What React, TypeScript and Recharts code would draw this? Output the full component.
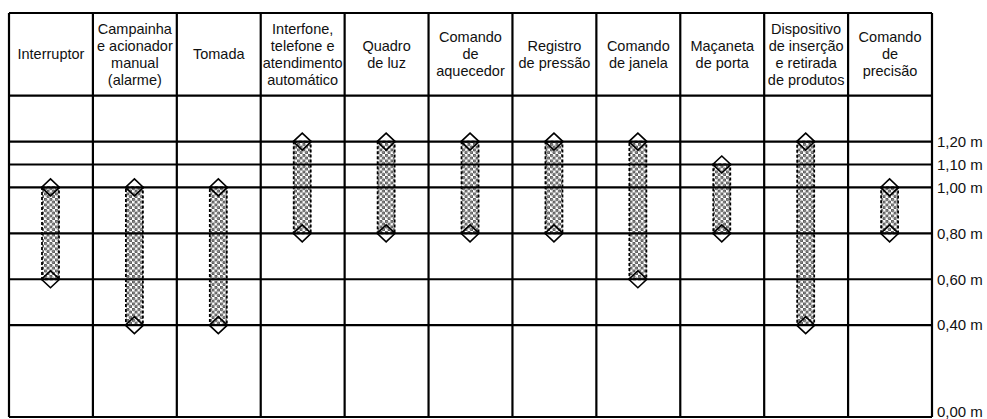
import { ComposedChart, Bar, XAxis, YAxis, ReferenceLine } from "recharts"

// column headers (line breaks as in the original table)
const categories = [
  "Interruptor",
  "Campainha\ne acionador\nmanual\n(alarme)",
  "Tomada",
  "Interfone,\ntelefone e\natendimento\nautomático",
  "Quadro\nde luz",
  "Comando\nde\naquecedor",
  "Registro\nde pressão",
  "Comando\nde janela",
  "Maçaneta\nde porta",
  "Dispositivo\nde inserção\ne retirada\nde produtos",
  "Comando\nde\nprecisão",
]

// mounting height range, metres
const lowValues = [0.6, 0.4, 0.4, 0.8, 0.8, 0.8, 0.8, 0.6, 0.8, 0.4, 0.8]
const highValues = [1.0, 1.0, 1.0, 1.2, 1.2, 1.2, 1.2, 1.2, 1.1, 1.2, 1.0]

const heightTicks = [0, 0.4, 0.6, 0.8, 1.0, 1.1, 1.2]

const HEADER_LINE = 1.4
const TOP = 1.76

const MARGIN_TOP = 13
const HEADER_BOTTOM_PX = 95.5
const LINE_H = 17

const data = categories.map((name, i) => ({
  name,
  range: [lowValues[i], highValues[i]],
}))

const formatHeight = (v: number) => v.toFixed(2).replace(".", ",") + " m"

const HeaderTick = ({ x, payload }: any) => {
  const lines = String(payload.value).split("\n")
  const center = (MARGIN_TOP + HEADER_BOTTOM_PX) / 2
  const start = center - ((lines.length - 1) * LINE_H) / 2
  return (
    <text x={x} textAnchor="middle" fontSize={14.5} fill="#111">
      {lines.map((l, i) => (
        <tspan key={i} x={x} y={start + i * LINE_H} dy="0.35em">
          {l}
        </tspan>
      ))}
    </text>
  )
}

// right-hand height labels; the 0,00 m one sits just above the page edge
const HeightTick = ({ x, y, payload }: any) => (
  <text x={x} y={payload.value === 0 ? y - 5 : y} dy="0.35em" fontSize={15} fill="#111" textAnchor="start">
    {formatHeight(payload.value)}
  </text>
)

const RangeShape = ({ x, y, width, height, index }: any) => {
  const cx = x + width / 2
  const dw = 9
  const dh = 8.5
  const diamond = (cy: number) =>
    `M${cx},${cy - dh} L${cx + dw},${cy} L${cx},${cy + dh} L${cx - dw},${cy} Z`
  const id = `dots-${index}`
  return (
    <g>
      <defs>
        <pattern id={id} width={5.5} height={5.5} patternUnits="userSpaceOnUse">
          <rect width={5.5} height={5.5} fill="#fff" />
          <circle cx={1.4} cy={1.4} r={1.2} fill="#999" stroke="#111" strokeWidth={0.8} />
          <circle cx={4.1} cy={4.1} r={1.2} fill="#999" stroke="#111" strokeWidth={0.8} />
        </pattern>
      </defs>
      <path d={diamond(y)} fill="#fff" />
      <path d={diamond(y + height)} fill="#fff" />
      <rect
        x={x}
        y={y}
        width={width}
        height={height}
        fill={`url(#${id})`}
        stroke="#000"
        strokeWidth={1.8}
        strokeDasharray="3 2"
      />
      <path d={diamond(y)} fill="none" stroke="#000" strokeWidth={1.6} />
      <path d={diamond(y + height)} fill="none" stroke="#000" strokeWidth={1.6} />
    </g>
  )
}

export default function App() {
  const rowLines = heightTicks.concat([HEADER_LINE, TOP])
  const lastCategory = categories[categories.length - 1]

  return (
    <div style={{ position: "absolute", left: 0, top: 0, fontFamily: "'Liberation Sans', Arial, sans-serif" }}>
      <ComposedChart
        width={987}
        height={419}
        data={data}
        margin={{ top: MARGIN_TOP - 1, right: 0, bottom: 2, left: 9 }}
      >
        <XAxis
          dataKey="name"
          orientation="top"
          height={1}
          interval={0}
          axisLine={false}
          tickLine={false}
          tick={<HeaderTick />}
        />
        <YAxis
          orientation="right"
          width={55}
          type="number"
          domain={[0, TOP]}
          ticks={heightTicks}
          interval={0}
          axisLine={false}
          tickLine={false}
          tickSize={3}
          tickMargin={2}
          tick={<HeightTick />}
        />
        {rowLines.map((v) => (
          <ReferenceLine key={`h-${v}`} y={v} stroke="#000" strokeWidth={2.2} />
        ))}
        {categories.map((c) => (
          <ReferenceLine key={`v-${c}`} x={c} position="start" stroke="#000" strokeWidth={2.2} />
        ))}
        <ReferenceLine x={lastCategory} position="end" stroke="#000" strokeWidth={2.2} />
        <Bar dataKey="range" barSize={17} shape={<RangeShape />} isAnimationActive={false} />
      </ComposedChart>
    </div>
  )
}
